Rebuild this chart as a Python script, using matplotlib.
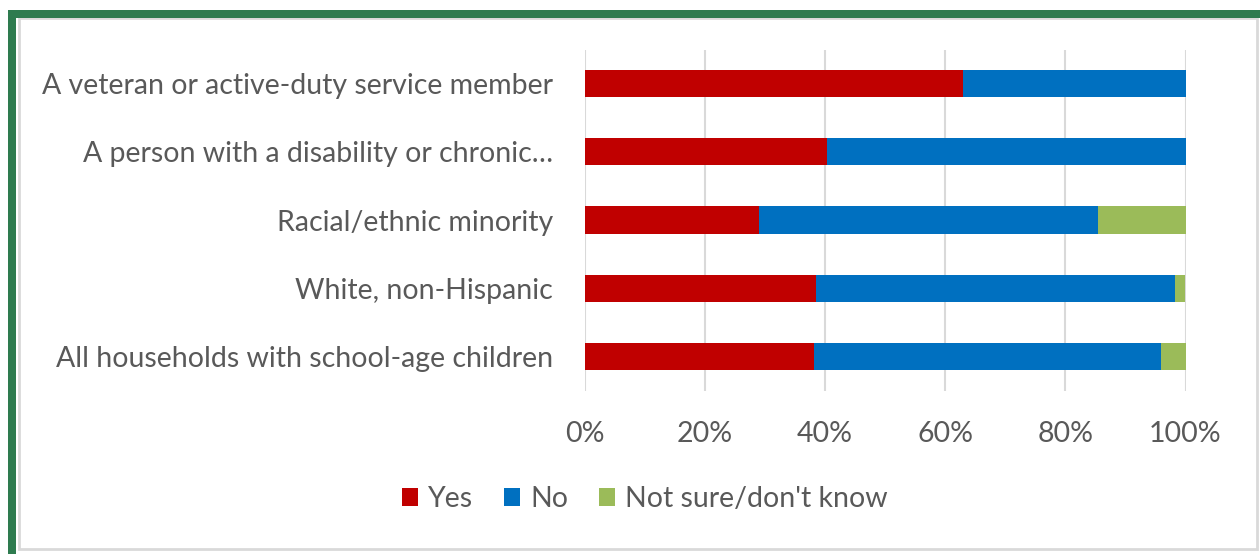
import matplotlib
matplotlib.use("Agg")
import matplotlib.pyplot as plt
from matplotlib.patches import Rectangle, Patch
import numpy as np

categories = [
    "A veteran or active-duty service member",
    "A person with a disability or chronic\u2026",
    "Racial/ethnic minority",
    "White, non-Hispanic",
    "All households with school-age children",
]
yes = [63.0, 40.3, 29.0, 38.4, 38.2]
no = [37.0, 59.7, 56.5, 59.8, 57.8]
not_sure = [0.0, 0.0, 14.5, 1.8, 4.0]
series_names = ["Yes", "No", "Not sure/don't know"]
colors = ["#C00000", "#0070C0", "#9BBB59"]
xticks = [0, 20, 40, 60, 80, 100]
xtick_labels = ["0%", "20%", "40%", "60%", "80%", "100%"]

plt.rcParams['font.family'] = ['Lato', 'DejaVu Sans']
text_color = "#595959"
fs = 20.5

fig = plt.figure(figsize=(12.6, 5.54), dpi=100)
ax = fig.add_axes([585 / 1260, 1 - 390.5 / 554, (1185.5 - 585) / 1260, (390.5 - 49.5) / 554])

y = np.arange(len(categories))[::-1]
yes_a = np.array(yes)
no_a = np.array(no)
ns_a = np.array(not_sure)
h = 0.4
ax.barh(y, yes_a, height=h, color=colors[0], zorder=3)
ax.barh(y, no_a, left=yes_a, height=h, color=colors[1], zorder=3)
ax.barh(y, ns_a, left=yes_a + no_a, height=h, color=colors[2], zorder=3)

ax.set_xlim(0, 100)
ax.set_ylim(-0.5, len(categories) - 0.5)
ax.set_xticks(xticks)
ax.set_xticklabels(xtick_labels)
ax.set_yticks(y)
ax.set_yticklabels(categories)
ax.tick_params(axis='both', length=0, labelsize=fs, colors=text_color)
ax.tick_params(axis='y', pad=23)
ax.tick_params(axis='x', pad=22)
ax.grid(axis='x', color="#D9D9D9", linewidth=1.5, zorder=0)
for s in ax.spines.values():
    s.set_visible(False)

handles = [Patch(facecolor=c, edgecolor='none') for c in colors]
leg = fig.legend(handles, series_names, loc='center', bbox_to_anchor=(645 / 1260, 1 - 499 / 554),
                 ncol=3, frameon=False, fontsize=fs, handlelength=0.55, handleheight=0.55,
                 handletextpad=0.35, columnspacing=1.1)
for t in leg.get_texts():
    t.set_color(text_color)

# borders
fig.patches.append(Rectangle((19 / 1260, 1 - 549 / 554), (1257 - 19) / 1260, (549 - 18) / 554,
                             transform=fig.transFigure, fill=False, edgecolor="#D9D9D9", linewidth=2))
green = "#2E7B4F"
fig.patches.append(Rectangle((8 / 1260, 1 - 18 / 554), (1260 - 8) / 1260, 8 / 554,
                             transform=fig.transFigure, facecolor=green, edgecolor='none'))
fig.patches.append(Rectangle((8 / 1260, 0), 8 / 1260, (554 - 10) / 554,
                             transform=fig.transFigure, facecolor=green, edgecolor='none'))

fig.savefig("out.png", dpi=100)
